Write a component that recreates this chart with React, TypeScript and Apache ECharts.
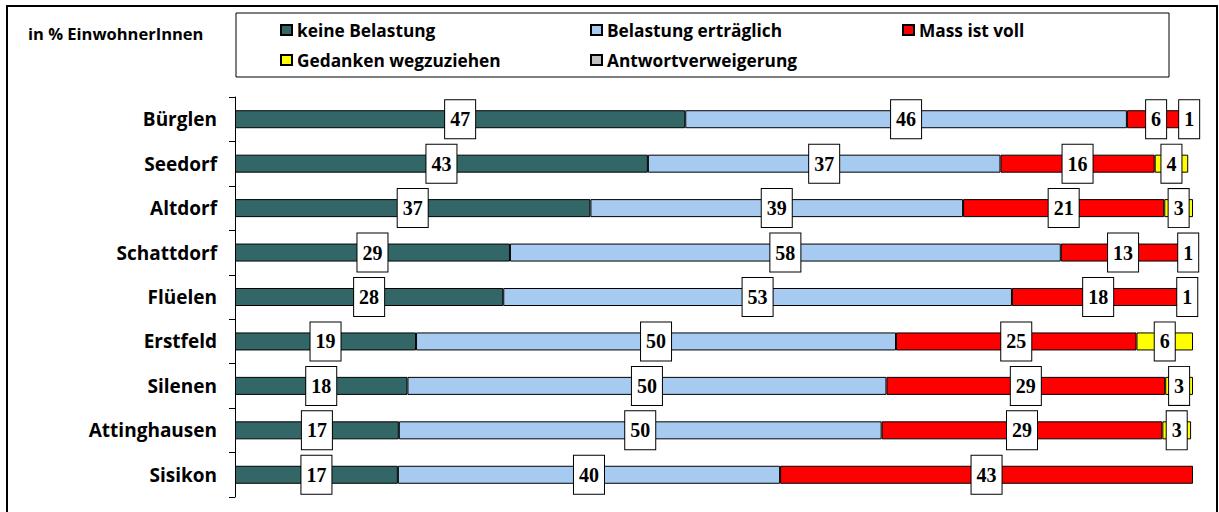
import React, { useEffect, useRef } from "react";
import * as echarts from "echarts";

const categories = [
  "Bürglen",
  "Seedorf",
  "Altdorf",
  "Schattdorf",
  "Flüelen",
  "Erstfeld",
  "Silenen",
  "Attinghausen",
  "Sisikon",
];

// Shares in % as measured from the bar lengths (labels show rounded values)
const keineBelastung = [47.0, 43.1, 37.1, 28.7, 28.0, 18.9, 18.0, 17.1, 17.0];
const belastungErtraeglich = [46.1, 36.8, 38.9, 57.5, 53.1, 50.1, 50.0, 50.4, 39.9];
const massIstVoll = [6.1, 16.1, 21.0, 13.0, 18.0, 25.1, 29.1, 29.3, 43.1];
const gedankenWegzuziehen = [0, 3.5, 3.0, 0.6, 0.6, 5.9, 2.9, 3.0, 0];
const antwortverweigerung = [0.8, 0, 0, 0, 0, 0, 0, 0, 0];

const seriesNames = [
  "keine Belastung",
  "Belastung erträglich",
  "Mass ist voll",
  "Gedanken wegzuziehen",
  "Antwortverweigerung",
];
const seriesColors = ["#336666", "#A6CAF0", "#FF0000", "#FFFF00", "#C0C0C0"];
const seriesValues = [
  keineBelastung,
  belastungErtraeglich,
  massIstVoll,
  gedankenWegzuziehen,
  antwortverweigerung,
];

const unitLabel = "in % EinwohnerInnen";

const SANS = "'Open Sans', 'DejaVu Sans', sans-serif";
const SERIF = "'Liberation Serif', 'DejaVu Serif', serif";

export default function App() {
  const ref = useRef<HTMLDivElement>(null);

  useEffect(() => {
    if (!ref.current) return;
    const chart = echarts.init(ref.current, null, { renderer: "svg" });

    const legendPos = [
      { left: 280, top: 21 },
      { left: 590, top: 21 },
      { left: 902, top: 21 },
      { left: 280, top: 51 },
      { left: 590, top: 51 },
    ];

    const legends = seriesNames.map((name, i) => ({
      data: [name],
      left: legendPos[i].left,
      top: legendPos[i].top,
      padding: 0,
      itemWidth: 11,
      itemHeight: 10,
      icon: "rect",
      selectedMode: false,
      textStyle: {
        fontFamily: SANS,
        fontWeight: "bold",
        fontSize: 17.3,
        color: "#000",
        lineHeight: 18,
      },
    }));

    const series = seriesNames.map((name, i) => ({
      name,
      type: "bar",
      stack: "total",
      barWidth: 18,
      itemStyle: {
        color: seriesColors[i],
        borderColor: "#000",
        borderWidth: 1,
      },
      label: {
        show: true,
        position: "inside",
        formatter: (p: any) => String(Math.round(p.value)),
        fontFamily: SERIF,
        fontWeight: "bold",
        fontSize: 20,
        lineHeight: 20,
        color: "#000",
        backgroundColor: "#fff",
        borderColor: "#000",
        borderWidth: 1,
        padding: [9, 5, 9, 5],
      },
      data: seriesValues[i].map((v) => (v === 0 ? null : v)),
    }));

    chart.setOption({
      animation: false,
      legend: legends,
      grid: { left: 235, right: 26, top: 97, bottom: 15, containLabel: false },
      xAxis: {
        type: "value",
        min: 0,
        max: 100,
        show: false,
      },
      yAxis: {
        type: "category",
        data: categories,
        inverse: true,
        axisLine: { show: true, lineStyle: { color: "#000", width: 1 } },
        axisTick: { show: true, length: 6, lineStyle: { color: "#000" } },
        axisLabel: {
          margin: 18,
          fontFamily: SANS,
          fontWeight: "bold",
          fontSize: 19,
          color: "#000",
        },
      },
      graphic: [
        {
          type: "rect",
          shape: { x: 7, y: 6, width: 1210, height: 520 },
          style: { fill: "none", stroke: "#000", lineWidth: 2 },
          silent: true,
          z: -10,
        },
        {
          type: "rect",
          shape: { x: 236, y: 13, width: 933, height: 64 },
          style: { fill: "#fff", stroke: "#000", lineWidth: 1 },
          silent: true,
          z: -5,
        },
        {
          type: "text",
          x: 28,
          y: 33,
          style: {
            text: unitLabel,
            fontFamily: SANS,
            fontWeight: "bold",
            fontSize: 16.5,
            fill: "#000",
            verticalAlign: "middle",
          },
          silent: true,
        },
      ],
      series,
    });

    return () => chart.dispose();
  }, []);

  return (
    <div
      ref={ref}
      style={{
        position: "fixed",
        left: 0,
        top: 0,
        width: 1219,
        height: 512,
        background: "#fff",
      }}
    />
  );
}
